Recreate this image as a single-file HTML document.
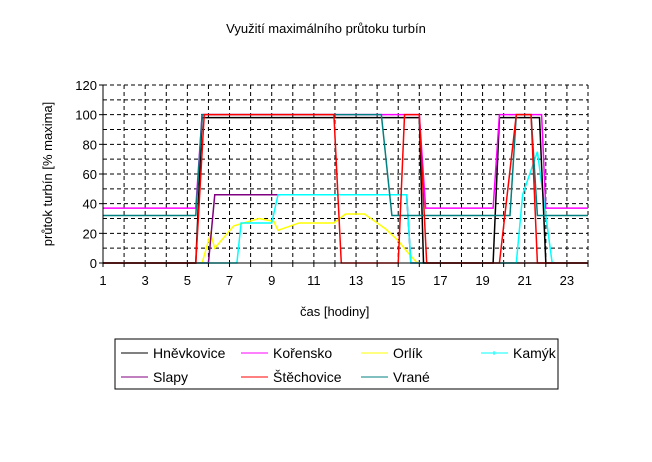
<!DOCTYPE html>
<html><head><meta charset="utf-8"><style>
body{margin:0;background:#fff;font-family:"Liberation Sans",sans-serif;}
svg text{font-family:"Liberation Sans",sans-serif;}
</style></head><body>
<svg width="652" height="457" viewBox="0 0 652 457">
<rect width="652" height="457" fill="#fff"/>
<text x="326" y="33" font-size="13" text-anchor="middle">Využití maximálního průtoku turbín</text>
<g id="grid"></g>
<g id="series"></g>
<g id="axes"></g>
<text x="300" y="316" font-size="13">čas [hodiny]</text>
<text transform="translate(52,174) rotate(-90)" font-size="13" text-anchor="middle">průtok turbín [% maxima]</text>
<g>
<rect x="115" y="339" width="443" height="50" fill="#fff" stroke="#000"/>
<g id="legend"></g>
</g>
</svg>
<script>
const seriesNames=["Hněvkovice","Kořensko","Orlík","Kamýk","Slapy","Štěchovice","Vrané"];
const seriesColors=["#000","#ff00ff","#ffff00","#00ffff","#800080","#ff0000","#008080"];
const hnevT=[1,5.4,5.7,16.0,16.2,19.5,19.8,21.7,22.0,24];
const hnevV=[0,0,98,98,0,0,98,98,0,0];
const korT=[1,5.4,5.7,16.0,16.3,19.5,19.8,21.8,22.0,24];
const korV=[37,37,100,100,37,37,100,100,37,37];
const orlT=[1,5.7,6.1,6.3,7.2,8.4,9.1,9.3,10.3,11.95,12.5,13.4,14.4,15.0,15.4,15.9,24];
const orlV=[0,0,20,10,25,30,28,22,27,27,33,33,23,15,8,0,0];
const kamT=[1,7.35,7.55,9.0,9.3,15.4,15.6,20.6,20.9,21.6,22.3,24];
const kamV=[0,0,27,27,46,46,0,0,46,75,0,0];
const slaT=[1,6.0,6.3,15.4,15.6,24];
const slaV=[0,0,46,46,0,0];
const steT=[1,5.4,5.8,11.95,12.3,15.0,15.3,16.0,16.35,19.8,20.6,21.3,21.6,24];
const steV=[0,0,100,100,0,0,100,100,0,0,100,100,0,0];
const vraT=[1,5.4,5.7,14.2,14.7,20.3,20.6,21.3,21.6,24];
const vraV=[32,32,100,100,32,32,100,100,32,32];
const xTicks=[1,3,5,7,9,11,13,15,17,19,21,23];
const yTicks=[0,20,40,60,80,100,120];
const NS="http://www.w3.org/2000/svg";
const L=103,R=588,T=85,B=263;
const xs=t=>L+(t-1)*(R-L)/23;
const ys=v=>B-v*(B-T)/120;
function mk(tag,attrs,parent){const e=document.createElementNS(NS,tag);for(const k in attrs)e.setAttribute(k,attrs[k]);parent.appendChild(e);return e;}
const grid=document.getElementById('grid');
for(let v=10;v<=120;v+=10){const e=mk('line',{x1:L,x2:R,y1:ys(v),y2:ys(v),stroke:'#000','stroke-dasharray':'4,3'},grid);

}
for(let t=2;t<=24;t++){const e=mk('line',{x1:xs(t),x2:xs(t),y1:T,y2:B,stroke:'#000','stroke-dasharray':'4,3'},grid);

}
const sg=document.getElementById('series');
const data=[[hnevT,hnevV],[korT,korV],[orlT,orlV],[kamT,kamV],[slaT,slaV],[steT,steV],[vraT,vraV]];
const order=[2,4,3,0,1,6,5];
order.forEach(i=>{const [tt,vv]=data[i];
const p=mk('polyline',{points:tt.map((t,j)=>xs(t)+','+ys(vv[j])).join(' '),fill:'none',stroke:seriesColors[i],'stroke-width':1.5},sg);

});
const ax=document.getElementById('axes');
mk('line',{x1:L,x2:L,y1:T,y2:B,stroke:'#000'},ax);
mk('line',{x1:L,x2:R,y1:B,y2:B,stroke:'#000'},ax);
yTicks.forEach(v=>{mk('line',{x1:L-4,x2:L,y1:ys(v),y2:ys(v),stroke:'#000'},ax);
const e=mk('text',{x:L-6,y:ys(v)+5,'font-size':13,'text-anchor':'end'},ax);e.textContent=v;

});
for(let t=1;t<=24;t++)mk('line',{x1:xs(t),x2:xs(t),y1:B,y2:B+4,stroke:'#000'},ax);
xTicks.forEach(t=>{const e=mk('text',{x:xs(t),y:B+22,'font-size':13,'text-anchor':'middle'},ax);e.textContent=t;

});
const lg=document.getElementById('legend');
seriesNames.forEach((n,i)=>{const c=i%4,r=Math.floor(i/4);const x=121+c*120,y=353+r*24;
const g=mk('g',{},lg);


mk('line',{x1:x,x2:x+27,y1:y,y2:y,stroke:seriesColors[i],'stroke-width':1},g);
if(i===3){mk('line',{x1:x+13,x2:x+13,y1:y-2,y2:y+2,stroke:seriesColors[i]},g);}
const tx=mk('text',{x:x+32,y:y+5,'font-size':14},g);tx.textContent=n;});
</script>
</body></html>
